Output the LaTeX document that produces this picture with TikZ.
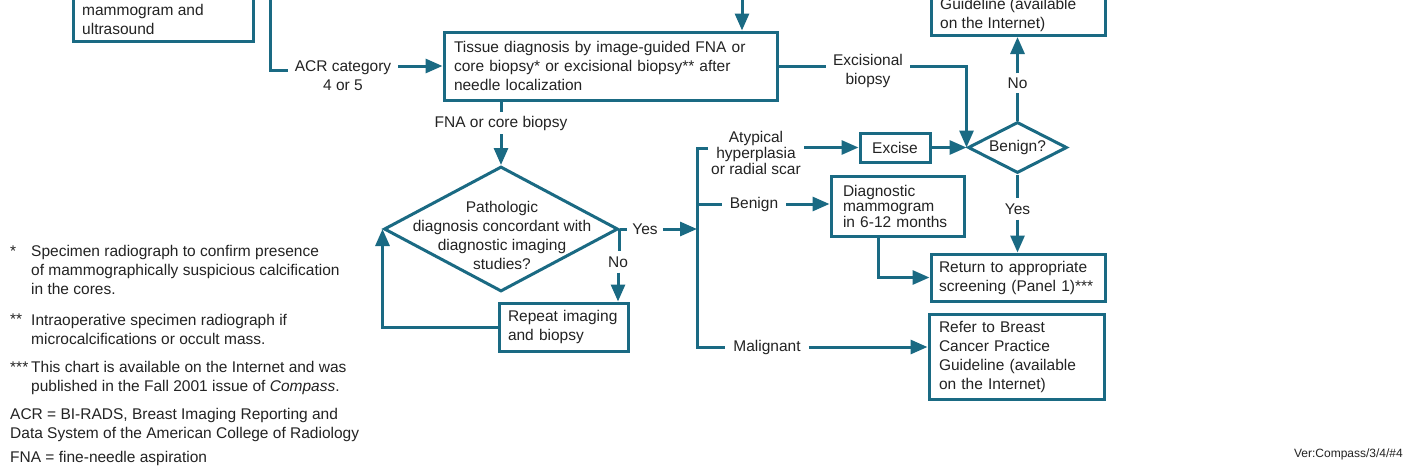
\documentclass[tikz,border=0pt]{standalone}
\usepackage{fontspec}
\setmainfont{Liberation Sans}
\usetikzlibrary{arrows.meta,shapes.geometric,calc}
\definecolor{teal2}{RGB}{26,106,131}
\definecolor{ink}{RGB}{35,35,35}
\begin{document}
\begin{tikzpicture}[x=1pt,y=-1pt,
  every node/.style={font=\fontsize{15.5}{19}\selectfont, text=ink},
  ln/.style={draw=teal2, line width=3pt},
  arr/.style={ln, -{Triangle[length=17pt,width=14pt]}},
  box/.style={draw=teal2, line width=3pt, rectangle, inner ysep=0pt, align=left},
  lab/.style={inner xsep=7pt, inner ysep=2pt, align=center},
  dia/.style={draw=teal2, line width=3pt, diamond, inner sep=0pt},
  txt/.style={align=left, inner sep=0pt},
]
\useasboundingbox (0,0) rectangle (1409,472);
\fill[white] (0,0) rectangle (1409,472);
\clip (0,0) rectangle (1409,472);

% top-left (cut) box
\node[box, minimum width=180pt, minimum height=83pt, anchor=south west] (tlb) at (72,43) {};
\node[txt, anchor=west] (tlt) at (82,19.5) {mammogram and\\ultrasound};

% ACR branch
\coordinate (acrtop) at (270,-5);
\node[lab] (acr) at (343,76) {ACR category\\4 or 5};

% tissue box
\node[box, minimum width=333pt, minimum height=68pt, text width=313pt, inner xsep=10pt] (tis) at (610.5,66)
  {Tissue diagnosis by image-guided FNA or\\core biopsy* or excisional biopsy** after\\needle localization};
\coordinate (tistop) at (742,-5);

\draw[ln] (acrtop) |- ([yshift=6pt]acr.west);
\draw[arr] (acr.east |- tis.west) -- (tis.west);
\draw[arr] (tistop) -- (tistop |- tis.north);

% excisional biopsy
\node[lab] (exc) at (868,71) {Excisional\\biopsy};

% Benign? diamond
\node[dia, minimum width=99pt, minimum height=51pt] (ben) at (1017.5,147.5) {};
\node (bent) at (ben) {Benign?};

\draw[ln] (tis.east) -- (tis.east -| exc.west);
\draw[arr] (exc.east |- tis.east) -| (ben.west);

% guideline (cut) box
\node[box, minimum width=174pt, minimum height=77pt, anchor=south west] (gl) at (930,37) {};
\node[txt, anchor=west] (glt) at (940,14.5) {Guideline (available\\on the Internet)};
\node[lab, inner ysep=4pt] (no2) at (1017.5,83) {No};
\draw[ln] (ben.north) -- (no2.south);
\draw[arr] (no2.north) -- (no2.north |- gl.south);

% Excise
\node[box, minimum width=70pt, minimum height=29pt, inner xsep=0pt, align=center] (exs) at (895,147.5) {Excise};
\draw[arr] (exs.east) -- (ben.west);

% FNA branch and pathologic diamond
\node[lab, inner ysep=4pt] (fna) at (501,123) {FNA or core biopsy};
\node[dia, minimum width=234pt, minimum height=125pt] (pd) at (501,229) {};
\node[align=center, inner sep=0pt] (pdt) at (502,235.5) {Pathologic\\diagnosis concordant with\\diagnostic imaging\\studies?};
\draw[ln] (tis.south -| fna) -- (fna.north);
\draw[arr] (fna.south) -- (pd.north);

% Yes / No from pathologic
\node[lab, inner xsep=5pt] (yes) at (645,229) {Yes};
\node[lab, inner xsep=2pt, inner ysep=5pt] (no) at (618,262) {No};
\node[box, minimum width=129pt, minimum height=48pt, text width=111pt, inner xsep=9pt] (rep) at (563.5,327) {Repeat imaging\\and biopsy};
\coordinate (brt) at (697,148);
\coordinate (brm) at (697,229);
\coordinate (brb) at (697,347);
\draw[ln] (pd.east) -- (yes.west);
\draw[arr] (yes.east) -- (brm);
\draw[ln] (pd.east) -- (pd.east |- no.north);
\draw[arr] (no.south) -- (no.south |- rep.north);
\draw[arr] (rep.west) -| (pd.west);

% bracket branches
\node[lab, inner xsep=3pt, inner ysep=0pt, font=\fontsize{15.5}{16}\selectfont] (aty) at (756,153) {Atypical\\hyperplasia\\or radial scar};
\node[lab, inner xsep=8pt] (benl) at (754,204) {Benign};
\node[lab, inner xsep=8pt] (mal) at (767,347) {Malignant};
\draw[ln] (brt -| aty.west) -- (brt) -- (brb) -- (brb -| mal.west);
\draw[ln] (brm |- benl.west) -- (benl.west);
\draw[arr] (aty.east |- exs.west) -- (exs.west);

% diagnostic mammogram
\node[box, minimum width=133pt, minimum height=60pt, text width=109pt, inner xsep=12pt, font=\fontsize{15.5}{15.5}\selectfont] (dm) at (897.5,206) {Diagnostic\\mammogram\\in 6-12 months};
\draw[arr] (benl.east) -- (benl.east -| dm.west);

% return to screening
\node[box, minimum width=174pt, minimum height=47pt, text width=158pt, inner xsep=8pt] (ret) at (1018,277.5) {Return to appropriate\\screening (Panel 1)***};
\node[lab, inner ysep=5pt] (yes2) at (1017.5,209) {Yes};
\draw[ln] (ben.south) -- (yes2.north);
\draw[arr] (yes2.south) -- (yes2.south |- ret.north);
\draw[arr] ([xshift=49pt]dm.south west) |- (ret.west);

% refer box
\node[box, minimum width=175pt, minimum height=85pt, text width=155pt, inner xsep=10pt] (ref) at (1016.5,356.5) {Refer to Breast\\Cancer Practice\\Guideline (available\\on the Internet)};
\draw[arr] (mal.east) -- (mal.east -| ref.west);

% footnotes (base anchor = baseline of last line)
\node[txt, anchor=base west] (st1) at (10,256.5) {*};
\node[txt, anchor=base west] (f1) at (31,294.5) {Specimen radiograph to confirm presence\\of mammographically suspicious calcification\\in the cores.};
\node[txt, anchor=base west] (st2) at (10,324.5) {**};
\node[txt, anchor=base west] (f2) at (31,344.5) {Intraoperative specimen radiograph if\\microcalcifications or occult mass.};
\node[txt, anchor=base west] (st3) at (10,372.5) {***};
\node[txt, anchor=base west] (f3) at (31,391.5) {This chart is available on the Internet and was\\published in the Fall 2001 issue of \textit{Compass}.};
\node[txt, anchor=base west] (f4) at (10,438.5) {ACR = BI-RADS, Breast Imaging Reporting and\\Data System of the American College of Radiology};
\node[txt, anchor=base west] (f5) at (10,462.5) {FNA = fine-needle aspiration};
\node[txt, anchor=base east, font=\fontsize{12}{14}\selectfont] (ver) at (1403,457) {Ver:Compass/3/4/\#4};
\end{tikzpicture}
\end{document}
